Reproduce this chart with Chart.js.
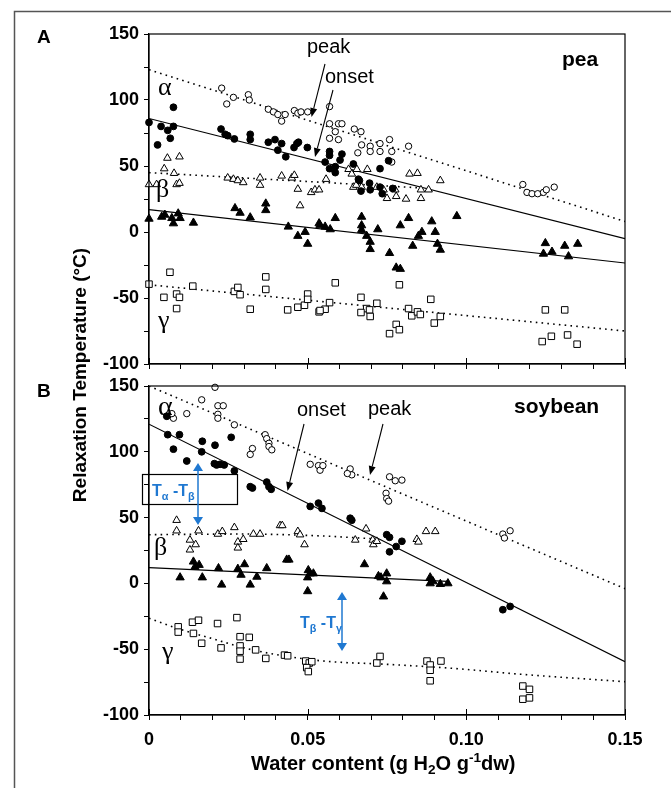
<!DOCTYPE html>
<html>
<head>
<meta charset="utf-8">
<script src="https://cdn.jsdelivr.net/npm/chart.js@4.4.1/dist/chart.umd.min.js"></script>
<style>
  body { margin: 0; background: #fff; }
  #wrap { position: relative; width: 671px; height: 788px; overflow: hidden; }
  #wrap canvas { position: absolute; left: 0; top: 0; }
</style>
</head>
<body>
<div id="wrap">
  <canvas id="peaChart" width="671" height="788"></canvas>
  <canvas id="soyChart" width="671" height="788"></canvas>
</div>
<script>
// --- DATA ([water content, temperature]) ---
const xTickLabels = ['0', '0.05', '0.10', '0.15'];
const yTickLabels = ['-100', '-50', '0', '50', '100', '150'];

// pea
const peaAlphaPeak = [[0.0229,109],[0.0245,97],[0.0266,102],[0.0313,104],[0.0316,100],[0.0376,93],[0.0392,91],[0.0406,89],[0.0418,84],[0.0429,89],[0.0458,92],[0.0469,90],[0.0479,91],[0.05,91],[0.0569,95],[0.0569,82],[0.0597,82],[0.0608,82],[0.0587,76],[0.0569,71],[0.0597,70],[0.0647,78],[0.0668,76],[0.067,66],[0.0658,60],[0.0697,65],[0.0697,61],[0.0728,67],[0.0728,61],[0.0758,70],[0.0765,61],[0.0818,65],[0.0765,53],[0.1178,36],[0.1191,30],[0.1207,29],[0.1225,29],[0.1243,30],[0.1252,32],[0.1277,34]];
const peaAlphaOnset = [[0,83],[0.0077,94.5],[0.0038,80],[0.0059,77],[0.0077,80],[0.0027,66],[0.0067,71],[0.0227,78],[0.024,74],[0.0248,73],[0.0269,70.5],[0.0319,74],[0.0319,70],[0.0376,68],[0.0397,70],[0.0418,67],[0.0406,62],[0.0431,57],[0.0457,64],[0.0466,67],[0.0471,68],[0.0499,64],[0.0555,53],[0.0569,61],[0.0569,58],[0.0608,59],[0.0602,54.5],[0.0587,49.5],[0.0569,48],[0.0587,45],[0.0644,51.5],[0.066,40],[0.0663,39],[0.0695,37],[0.0668,31],[0.0697,32],[0.0728,34],[0.0735,29],[0.0768,33],[0.0728,48],[0.0755,54]];
const peaBetaPeak = [[0.0058,56],[0.0096,57],[0.0048,48],[0.0079,44.5],[0,36],[0.0024,36],[0.0087,36],[0.0096,37],[0.0248,41],[0.0266,40],[0.028,39],[0.0297,37.5],[0.035,41],[0.035,35.5],[0.0418,42.5],[0.045,41],[0.0458,43],[0.0469,32.5],[0.0476,20],[0.0511,30],[0.0523,32],[0.0536,32],[0.0558,40],[0.0629,47.5],[0.0639,44],[0.0655,47.5],[0.0644,34],[0.0653,35.5],[0.0688,47.5],[0.067,34],[0.0718,34],[0.0739,32],[0.075,25.5],[0.0776,32],[0.0779,27],[0.081,25],[0.0821,44],[0.0846,44.5],[0.0857,32],[0.0881,32],[0.0857,25.5],[0.0918,39]];
const peaBetaOnset = [[0,10],[0.004,11.5],[0.005,13],[0.0072,10.5],[0.0077,6.5],[0.0092,14],[0.0098,10.5],[0.014,7],[0.0271,18],[0.0287,14.5],[0.0368,21.5],[0.0368,16.5],[0.0319,11],[0.0439,4],[0.0469,-3],[0.0492,0],[0.05,-9],[0.0536,6.5],[0.0539,5],[0.0555,4],[0.0571,2],[0.0587,10.5],[0.067,11.5],[0.067,5],[0.067,1.5],[0.0686,-3],[0.0697,-7.5],[0.0697,-13],[0.0721,2],[0.0758,-16],[0.0779,-27],[0.0792,-28],[0.0792,5],[0.0818,10.5],[0.0831,-10.5],[0.0849,-3],[0.086,0],[0.0891,8],[0.0902,0],[0.0909,-9],[0.0918,-13.5],[0.097,12],[0.1249,-8.5],[0.1243,-16.5],[0.127,-15],[0.131,-10.5],[0.1322,-18.5],[0.1351,-9]];
const peaGamma = [[0,-39.5],[0.0066,-30.5],[0.0047,-49.5],[0.0087,-47],[0.0096,-49.5],[0.0087,-58],[0.0138,-41],[0.0269,-45],[0.028,-42],[0.0287,-47.5],[0.0319,-58.5],[0.0368,-34],[0.0368,-43.5],[0.0437,-59],[0.0469,-57],[0.049,-55.5],[0.05,-47],[0.05,-51],[0.0536,-60.5],[0.0555,-58.5],[0.0587,-38.5],[0.0569,-53.5],[0.0539,-59.5],[0.0668,-49.5],[0.0686,-58],[0.0695,-59],[0.0697,-64],[0.0718,-54],[0.0668,-61],[0.0789,-40],[0.0779,-70],[0.0789,-74],[0.0758,-77],[0.0818,-58],[0.0828,-63.5],[0.0846,-60.5],[0.0855,-62.5],[0.0888,-51],[0.0899,-69],[0.0918,-64],[0.1249,-59],[0.131,-59],[0.1239,-83],[0.1268,-79],[0.1319,-78],[0.1349,-85]];
const peaAlphaPeakFit = [[0,123],[0.15,8]];
const peaAlphaOnsetFit = [[0,86],[0.15,-5]];
const peaBetaPeakFit = [[0,45],[0.085,33.5]];
const peaBetaOnsetFit = [[0,17],[0.15,-23.5]];
const peaGammaFit = [[0,-40],[0.15,-75]];

// soybean
const soyAlphaPeak = [[0.0208,149],[0.0166,139.5],[0.0119,129],[0.0077,125.5],[0.0072,129],[0.0217,135],[0.0234,135],[0.0217,128.5],[0.0217,125.5],[0.0269,120.5],[0.0366,113],[0.0371,110],[0.0378,106.5],[0.0378,104],[0.0387,101.5],[0.0326,102.5],[0.0319,98],[0.0508,90.5],[0.0534,89.5],[0.0539,86],[0.0548,89.5],[0.0634,87],[0.0639,82.5],[0.0625,83.5],[0.0758,81],[0.0776,78],[0.0797,78.5],[0.0747,68.5],[0.0749,64.5],[0.0755,62.5],[0.1115,37.5],[0.112,34.5],[0.1138,40]];
const soyAlphaOnset = [[0.0056,127],[0.0059,113],[0.0096,113],[0.0077,102],[0.0119,93],[0.0166,100],[0.0168,108],[0.0208,105],[0.0259,111],[0.0206,91],[0.0213,90],[0.0224,90.5],[0.0237,90],[0.0269,85.5],[0.0319,73.5],[0.0326,72.5],[0.0371,77],[0.0378,73.5],[0.0385,71.5],[0.0508,58.5],[0.0534,61],[0.0545,57],[0.0634,49.5],[0.0639,48],[0.0749,37],[0.0758,35],[0.0797,32],[0.0779,28],[0.0758,24],[0.1115,-20],[0.1138,-17.5]];
const soyBetaPeak = [[0.0087,48],[0.0087,40],[0.0156,40],[0.0129,33],[0.0147,29.5],[0.0129,25.5],[0.0217,37.5],[0.0231,39.5],[0.0269,42.5],[0.028,31.5],[0.028,27],[0.0297,33.5],[0.0329,37.5],[0.035,37.5],[0.0413,44],[0.042,44],[0.0469,39.5],[0.0476,37],[0.049,29.5],[0.065,33],[0.0684,41.5],[0.0705,33],[0.0707,29.5],[0.0718,32],[0.0844,33.5],[0.0849,31.5],[0.0873,39.5],[0.0902,39.5]];
const soyBetaOnset = [[0.0098,4.5],[0.014,16.5],[0.0145,12.5],[0.0158,14],[0.0168,4.5],[0.0229,-1],[0.0219,11.5],[0.028,11],[0.029,6.5],[0.0301,14.5],[0.0319,-1],[0.034,5],[0.0371,11.5],[0.0434,18],[0.0441,18],[0.0502,10],[0.0508,7.5],[0.0518,7.5],[0.05,4.5],[0.05,-6],[0.0679,14.5],[0.0723,5.5],[0.0731,4.5],[0.0749,7.5],[0.0749,1.5],[0.0739,-10],[0.0886,4.5],[0.0886,0],[0.0895,1.5],[0.0918,-0.5],[0.0942,0]];
const soyGamma = [[0.0092,-33],[0.0092,-37],[0.0137,-29.5],[0.0156,-28],[0.014,-38],[0.0166,-45.5],[0.0216,-30.5],[0.0227,-49],[0.0277,-26],[0.0287,-40.5],[0.0287,-47.5],[0.0287,-51.5],[0.0287,-57.5],[0.0316,-41],[0.0336,-50.5],[0.0368,-57],[0.0427,-54.5],[0.0437,-55],[0.0494,-59],[0.0505,-60.5],[0.0513,-59.5],[0.0497,-64],[0.0502,-67],[0.0718,-60.5],[0.0728,-55.5],[0.0876,-59],[0.0886,-62],[0.0886,-66],[0.092,-59],[0.0886,-74],[0.1178,-78],[0.1199,-80.5],[0.1178,-88],[0.1199,-87]];
const soyAlphaPeakFit = [[0,150],[0.15,-4]];
const soyAlphaOnsetFit = [[0,121],[0.15,-59.5]];
const soyBetaPeakFit = [[0,37],[0.03,37.5],[0.055,36],[0.07,34]];
const soyBetaOnsetFit = [[0,12],[0.094,1.5]];
const soyGammaFit = [[0,-26.5],[0.01,-35],[0.02,-42],[0.03,-49],[0.04,-54],[0.055,-59],[0.075,-61.5],[0.096,-64.6],[0.117,-69],[0.15,-74.7]];

// --- HELPERS ---
const SANS = '"Liberation Sans", Arial, sans-serif';
const SERIF = '"Liberation Serif", "Times New Roman", serif';
const BLUE = '#1f78d1';

function pts(arr) {
    return arr.map(p => ({ x: p[0], y: p[1] }));
}

function marks(arr, style, filled, radius) {
    return {
        type: 'scatter',
        data: pts(arr),
        pointStyle: style,
        pointRadius: radius,
        pointBackgroundColor: filled ? '#000' : '#fff',
        pointBorderColor: '#000',
        pointBorderWidth: 1,
        clip: false
    };
}

function fit(arr, dotted, curved) {
    return {
        type: 'line',
        data: pts(arr),
        borderColor: '#000',
        borderWidth: dotted ? 1.6 : 1.2,
        borderDash: dotted ? [1.6, 4.2] : [],
        pointRadius: 0,
        fill: false,
        tension: curved ? 0.4 : 0,
        cubicInterpolationMode: curved ? 'monotone' : 'default'
    };
}

function makeScales(showXLabels) {
    const tickFont = { family: SANS, size: 18, weight: 'bold' };
    return {
        x: {
            type: 'linear', min: 0, max: 0.15,
            ticks: {
                stepSize: 0.01, autoSkip: false, maxRotation: 0, minRotation: 0,
                display: showXLabels, color: '#000', font: tickFont, padding: 9,
                callback: v => {
                    const r = Math.round(v * 100);
                    return r % 5 === 0 ? xTickLabels[r / 5] : '';
                }
            },
            grid: { drawOnChartArea: false, drawTicks: true, tickLength: 5, color: '#000', lineWidth: 1 },
            border: { color: '#000', width: 1.2 },
            afterFit: s => { s.height = showXLabels ? 50 : 20; }
        },
        y: {
            min: -100, max: 150,
            ticks: {
                stepSize: 25, autoSkip: false, color: '#000', font: tickFont, padding: 5,
                callback: v => (v % 50 === 0 ? yTickLabels[(v + 100) / 50] : '')
            },
            grid: { drawOnChartArea: false, drawTicks: true, tickLength: 5, color: '#000', lineWidth: 1 },
            border: { color: '#000', width: 1.2 },
            afterFit: s => { s.width = 149; }
        }
    };
}

function arrow(ctx, x1, y1, x2, y2, color, headLen, headW, both) {
    const ang = Math.atan2(y2 - y1, x2 - x1);
    const cx = Math.cos(ang), sy = Math.sin(ang);
    ctx.strokeStyle = color;
    ctx.fillStyle = color;
    ctx.lineWidth = both ? 1.5 : 1.1;
    ctx.beginPath();
    ctx.moveTo(both ? x1 + cx * headLen : x1, both ? y1 + sy * headLen : y1);
    ctx.lineTo(x2 - cx * headLen, y2 - sy * headLen);
    ctx.stroke();
    const head = (tx, ty, dx, dy) => {
        const bx = tx - dx * headLen, by = ty - dy * headLen;
        ctx.beginPath();
        ctx.moveTo(tx, ty);
        ctx.lineTo(bx - dy * headW / 2, by + dx * headW / 2);
        ctx.lineTo(bx + dy * headW / 2, by - dx * headW / 2);
        ctx.closePath();
        ctx.fill();
    };
    head(x2, y2, cx, sy);
    if (both) head(x1, y1, -cx, -sy);
}

// text made of runs, some of them sub- or superscript
function runs(ctx, x, y, parts, size, weight, family) {
    parts.forEach(p => {
        const s = (p.sub || p.sup) ? size * 0.68 : size;
        ctx.font = `${weight} ${s}px ${family}`;
        const dy = p.sub ? size * 0.22 : (p.sup ? -size * 0.38 : 0);
        ctx.fillText(p.t, x, y + dy);
        x += ctx.measureText(p.t).width;
    });
}

function text(ctx, str, x, y, font, align) {
    ctx.font = font;
    ctx.textAlign = align || 'left';
    ctx.fillText(str, x, y);
    ctx.textAlign = 'left';
}

function panelFrame(chart) {
    const ctx = chart.ctx, a = chart.chartArea, xs = chart.scales.x;
    ctx.strokeStyle = '#000';
    ctx.lineWidth = 1.2;
    ctx.strokeRect(a.left, a.top, a.right - a.left, a.bottom - a.top);
    // major ticks also reach into the plot
    ctx.lineWidth = 1;
    [0, 0.05, 0.10, 0.15].forEach(v => {
        const px = Math.round(xs.getPixelForValue(v)) + 0.5;
        ctx.beginPath();
        ctx.moveTo(px, a.bottom);
        ctx.lineTo(px, a.bottom - 6);
        ctx.stroke();
    });
}

// --- PEA PANEL ---
const peaDecor = {
    id: 'peaDecor',
    afterDraw(chart) {
        const ctx = chart.ctx;
        ctx.save();
        panelFrame(chart);
        ctx.fillStyle = '#000';
        ctx.textBaseline = 'alphabetic';

        // page frame
        ctx.strokeStyle = '#555';
        ctx.lineWidth = 1.5;
        ctx.beginPath();
        ctx.moveTo(14.5, 790);
        ctx.lineTo(14.5, 11.5);
        ctx.lineTo(672, 11.5);
        ctx.stroke();

        text(ctx, 'A', 37, 43, `bold 19px ${SANS}`);
        text(ctx, 'pea', 562, 66, `bold 21px ${SANS}`);
        text(ctx, 'peak', 307, 53, `20px ${SANS}`);
        text(ctx, 'onset', 325, 83, `20px ${SANS}`);
        text(ctx, 'α', 158, 95, `26px ${SERIF}`);
        text(ctx, 'β', 156, 197, `26px ${SERIF}`);
        text(ctx, 'γ', 158, 328, `26px ${SERIF}`);

        arrow(ctx, 325, 64, 311.5, 117, '#000', 9, 7, false);
        arrow(ctx, 333, 90, 315, 157, '#000', 9, 7, false);

        // y title, shared by both panels
        ctx.save();
        ctx.translate(86, 375);
        ctx.rotate(-Math.PI / 2);
        text(ctx, 'Relaxation Temperature (°C)', 0, 0, `bold 19px ${SANS}`, 'center');
        ctx.restore();
        ctx.restore();
    }
};

new Chart(document.getElementById('peaChart'), {
    type: 'scatter',
    data: {
        datasets: [
            marks(peaAlphaOnset, 'circle', true, 3.4),
            marks(peaAlphaPeak, 'circle', false, 3.2),
            marks(peaBetaOnset, 'triangle', true, 4.8),
            marks(peaBetaPeak, 'triangle', false, 4.4),
            marks(peaGamma, 'rect', false, 4.6),
            fit(peaAlphaPeakFit, true),
            fit(peaAlphaOnsetFit, false),
            fit(peaBetaPeakFit, true),
            fit(peaBetaOnsetFit, false),
            fit(peaGammaFit, true)
        ]
    },
    options: {
        responsive: false,
        animation: false,
        devicePixelRatio: 1,
        layout: { padding: { left: 0, top: 34, right: 46, bottom: 404 } },
        plugins: { legend: { display: false }, tooltip: { enabled: false } },
        scales: makeScales(false)
    },
    plugins: [peaDecor]
});

// --- SOYBEAN PANEL ---
const soyDecor = {
    id: 'soyDecor',
    afterDraw(chart) {
        const ctx = chart.ctx;
        ctx.save();
        panelFrame(chart);
        ctx.fillStyle = '#000';
        ctx.textBaseline = 'alphabetic';

        text(ctx, 'B', 37, 397, `bold 19px ${SANS}`);
        text(ctx, 'soybean', 514, 413, `bold 21px ${SANS}`);
        text(ctx, 'onset', 297, 416, `20px ${SANS}`);
        text(ctx, 'peak', 368, 415, `20px ${SANS}`);
        text(ctx, 'α', 158, 415, `28px ${SERIF}`);
        text(ctx, 'β', 154, 555, `26px ${SERIF}`);
        text(ctx, 'γ', 162, 659, `26px ${SERIF}`);

        arrow(ctx, 304, 424, 287.5, 491, '#000', 9, 7, false);
        arrow(ctx, 383, 424, 370, 475, '#000', 9, 7, false);

        // T alpha - T beta box
        ctx.strokeStyle = '#000';
        ctx.lineWidth = 1.2;
        ctx.strokeRect(142.5, 474.5, 95, 30);
        ctx.fillStyle = BLUE;
        runs(ctx, 152, 496, [{ t: 'T' }, { t: 'α', sub: true }, { t: ' -' }, { t: 'T' }, { t: 'β', sub: true }], 16, 'bold', SANS);
        arrow(ctx, 198, 463, 198, 525, BLUE, 8, 10, true);

        runs(ctx, 300, 628, [{ t: 'T' }, { t: 'β', sub: true }, { t: ' -' }, { t: 'T' }, { t: 'γ', sub: true }], 16, 'bold', SANS);
        arrow(ctx, 342, 592, 342, 651, BLUE, 8, 10, true);

        // x title with sub/superscripts
        ctx.fillStyle = '#000';
        runs(ctx, 251, 770, [{ t: 'Water content (g H' }, { t: '2', sub: true }, { t: 'O g' }, { t: '-1', sup: true }, { t: 'dw)' }], 20, 'bold', SANS);
        ctx.restore();
    }
};

new Chart(document.getElementById('soyChart'), {
    type: 'scatter',
    data: {
        datasets: [
            marks(soyAlphaOnset, 'circle', true, 3.4),
            marks(soyAlphaPeak, 'circle', false, 3.2),
            marks(soyBetaOnset, 'triangle', true, 4.8),
            marks(soyBetaPeak, 'triangle', false, 4.4),
            marks(soyGamma, 'rect', false, 4.6),
            fit(soyAlphaPeakFit, true),
            fit(soyAlphaOnsetFit, false),
            fit(soyBetaPeakFit, true, true),
            fit(soyBetaOnsetFit, false),
            fit(soyGammaFit, true, true)
        ]
    },
    options: {
        responsive: false,
        animation: false,
        devicePixelRatio: 1,
        layout: { padding: { left: 0, top: 386, right: 46, bottom: 23 } },
        plugins: { legend: { display: false }, tooltip: { enabled: false } },
        scales: makeScales(true)
    },
    plugins: [soyDecor]
});
</script>
</body>
</html>
